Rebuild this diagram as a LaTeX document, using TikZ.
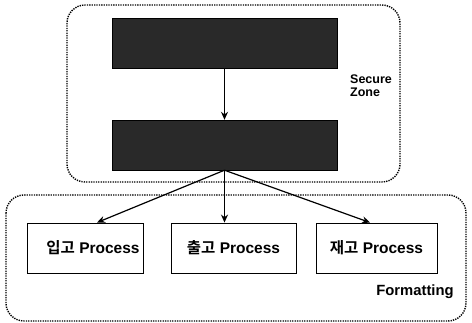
\documentclass[tikz,border=0pt]{standalone}
\usepackage{fontspec}
\setmainfont{Liberation Sans}
\newfontfamily\krfont[BoldFont={* Bold}]{Noto Sans CJK KR}
\usetikzlibrary{arrows.meta}
\tikzset{
  zone/.style={draw=black, line width=1.4pt, dash pattern=on 1.3pt off 1.1pt, rounded corners=18pt},
  darkbox/.style={draw=black, fill=black!84, minimum width=225pt, minimum height=50pt, inner sep=0pt},
  proc/.style={draw=black, line width=0.9pt, fill=white, minimum height=50pt, inner sep=0pt, font=\bfseries\fontsize{15.5}{17}\selectfont},
  conn/.style={draw=black, line width=1.2pt, -{Stealth[length=8pt,width=7pt]}},
  zonelabel/.style={font=\bfseries\fontsize{12.5}{13}\selectfont, align=left, inner sep=0pt}
}
\begin{document}
\begin{tikzpicture}[x=1pt,y=-1pt]
\useasboundingbox (0,0) rectangle (472,323);
\draw[zone] (67,5) rectangle (400,182);
\draw[zone] (6,195) rectangle (466,321);
\node[darkbox] (top) at (224.5,43) {};
\node[darkbox] (mid) at (224.5,145) {};
\node[proc, minimum width=116pt] (p1) at (85,248) {\hspace*{16pt}{\krfont\bfseries 입고} Process};
\node[proc, minimum width=125pt] (p2) at (233.5,248) {{\krfont\bfseries 출고} Process};
\node[proc, minimum width=121pt] (p3) at (376.5,248) {{\krfont\bfseries 재고} Process};
\node[zonelabel, anchor=west] (secure) at (350,86) {Secure\\Zone};
\node[font=\bfseries\fontsize{14.8}{16}\selectfont, inner sep=0pt] (fmt) at (415,292) {Formatting};
\draw[conn] (top.south) -- (mid.north);
\draw[conn] (mid.south) -- ([xshift=12pt]p1.north);
\draw[conn] (mid.south) -- ([xshift=-9pt]p2.north);
\draw[conn] (mid.south) -- ([xshift=-6.5pt]p3.north);
\end{tikzpicture}
\end{document}
